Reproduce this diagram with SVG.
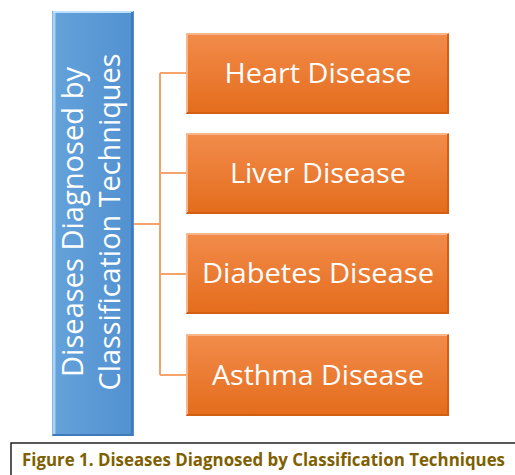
<svg xmlns="http://www.w3.org/2000/svg" width="515" height="475" viewBox="0 0 515 475">
  <defs>
    <linearGradient id="orangeFill" x1="0" y1="0" x2="0" y2="1">
      <stop offset="0" stop-color="#F28C4B"/>
      <stop offset="1" stop-color="#E46C1C"/>
    </linearGradient>
    <linearGradient id="blueFill" x1="0" y1="0" x2="1" y2="0">
      <stop offset="0" stop-color="#64A2DB"/>
      <stop offset="1" stop-color="#5291D0"/>
    </linearGradient>
  </defs>
  <style>
    .box { fill: url(#orangeFill); }
    .bevel-hi { fill: none; stroke: #F9B68A; stroke-width: 2; }
    .bevel-lo { fill: none; stroke: #D35F12; stroke-width: 2; }
    .label { font-family: "Open Sans", "Noto Sans", sans-serif; font-size: 27px; fill: #FFFFFF; text-anchor: middle; }
    .title { font-family: "Open Sans", "Noto Sans", sans-serif; font-size: 29px; fill: #FFFFFF; text-anchor: middle; }
    .link { fill: none; stroke: #F4A36C; stroke-width: 2; }
    .caption { font-family: "Open Sans", "Noto Sans", sans-serif; font-size: 17px; font-weight: bold; fill: #7F6000; }
  </style>

  <!-- connectors -->
  <g id="connectors">
    <line class="link" x1="134" y1="224" x2="160" y2="224" stroke="#EE8A4A"/>
    <line class="link" x1="160" y1="73" x2="160" y2="375"/>
    <line class="link" x1="160" y1="73" x2="186" y2="73"/>
    <line class="link" x1="160" y1="173" x2="186" y2="173"/>
    <line class="link" x1="160" y1="274" x2="186" y2="274"/>
    <line class="link" x1="160" y1="375" x2="186" y2="375"/>
  </g>

  <!-- root node -->
  <g id="root">
    <rect x="52" y="11" width="82" height="425" fill="url(#blueFill)"/>
    <line x1="54" y1="12" x2="54" y2="434" stroke="#A9D2F5" stroke-width="3"/>
    <line x1="53" y1="12" x2="133" y2="12" stroke="#BFE0FA" stroke-width="2"/>
    <line x1="132" y1="12" x2="132" y2="435" stroke="#3F7BBB" stroke-width="2"/>
    <line x1="53" y1="435" x2="133" y2="435" stroke="#3F7BBB" stroke-width="2"/>
    <text class="title" transform="translate(83 222) rotate(-90)" textLength="310" lengthAdjust="spacingAndGlyphs">Diseases Diagnosed by</text>
    <text class="title" transform="translate(120 222) rotate(-90)" textLength="337" lengthAdjust="spacingAndGlyphs">Classification Techniques</text>
  </g>

  <!-- child nodes -->
  <g id="heart">
    <rect class="box" x="186" y="33" width="263" height="81"/>
    <polyline class="bevel-hi" points="187,113 187,34 448,34"/>
    <polyline class="bevel-lo" points="187,113 448,113 448,34"/>
    <text class="label" x="318" y="83" textLength="187" lengthAdjust="spacingAndGlyphs">Heart Disease</text>
  </g>
  <g id="liver">
    <rect class="box" x="186" y="133" width="263" height="81"/>
    <polyline class="bevel-hi" points="187,213 187,134 448,134"/>
    <polyline class="bevel-lo" points="187,213 448,213 448,134"/>
    <text class="label" x="318" y="183" textLength="176" lengthAdjust="spacingAndGlyphs">Liver Disease</text>
  </g>
  <g id="diabetes">
    <rect class="box" x="186" y="233" width="263" height="81"/>
    <polyline class="bevel-hi" points="187,313 187,234 448,234"/>
    <polyline class="bevel-lo" points="187,313 448,313 448,234"/>
    <text class="label" x="318" y="283" textLength="232" lengthAdjust="spacingAndGlyphs">Diabetes Disease</text>
  </g>
  <g id="asthma">
    <rect class="box" x="186" y="334" width="263" height="82"/>
    <polyline class="bevel-hi" points="187,415 187,335 448,335"/>
    <polyline class="bevel-lo" points="187,415 448,415 448,335"/>
    <text class="label" x="318" y="385" textLength="212" lengthAdjust="spacingAndGlyphs">Asthma Disease</text>
  </g>

  <!-- caption -->
  <g id="caption">
    <polyline points="11,475 11,443 515,443" fill="none" stroke="#222222" stroke-width="1.5"/>
    <text class="caption" x="22" y="466" textLength="483" lengthAdjust="spacingAndGlyphs">Figure 1. Diseases Diagnosed by Classification Techniques</text>
  </g>
</svg>
